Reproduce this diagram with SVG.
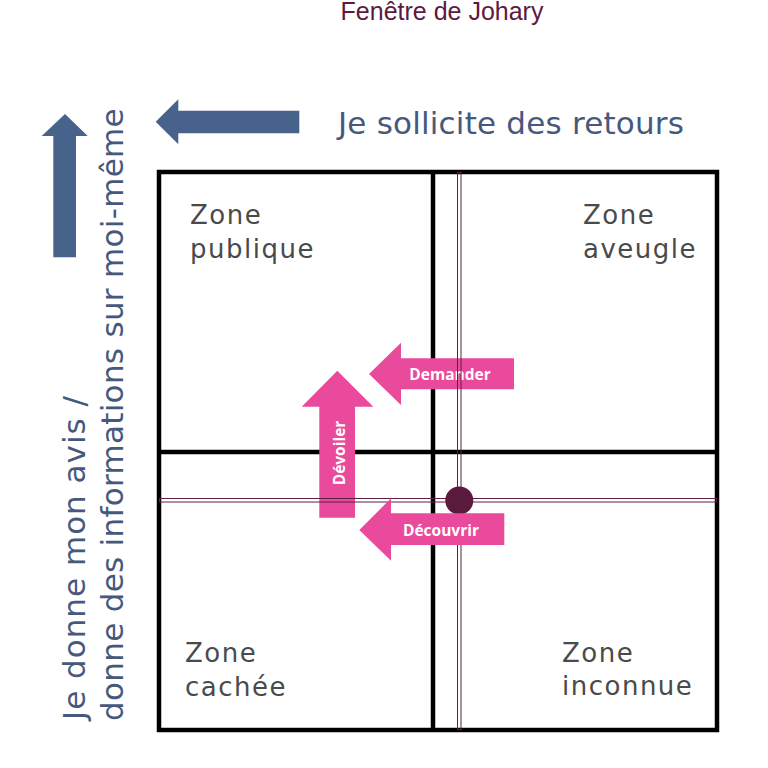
<svg xmlns="http://www.w3.org/2000/svg" width="768" height="768" viewBox="0 0 768 768">
<style>
.grid{stroke:#000;stroke-width:4.5;fill:none}
.pl{fill:none;stroke:#5e1f45;stroke-width:1}
.blue{fill:#47628b}
.pink{fill:#ea4a9b}
.zone{font-family:"DejaVu Sans",sans-serif;font-size:26px;letter-spacing:1.5px;fill:#4a4a4a}
.big{font-family:"DejaVu Sans",sans-serif;font-size:31px;fill:#46597d}
.lbl{font-family:"Open Sans",sans-serif;font-weight:bold;font-size:15.5px;fill:#fff}
</style>
<rect width="768" height="768" fill="#fff"/>
<text x="442" y="20" text-anchor="middle" font-family="Liberation Sans, sans-serif" font-size="25" fill="#5c1a40">Fenêtre de Johary</text>
<g id="grid">
<rect class="grid" x="159" y="172" width="558" height="558"/>
<line class="grid" x1="433" y1="172" x2="433" y2="730"/>
<line class="grid" x1="159" y1="452" x2="717" y2="452"/>
</g>
<g id="zone-publique"><text class="zone" x="190" y="224">Zone</text><text class="zone" x="190" y="258">publique</text></g>
<g id="zone-aveugle"><text class="zone" x="583" y="224">Zone</text><text class="zone" x="583" y="258">aveugle</text></g>
<g id="zone-cachee"><text class="zone" x="185" y="662">Zone</text><text class="zone" x="185" y="696">cachée</text></g>
<g id="zone-inconnue"><text class="zone" x="562" y="662">Zone</text><text class="zone" x="562" y="695">inconnue</text></g>
<g id="axis-top">
<path class="blue" d="M155.7,121.7 L178.3,99.3 L178.3,110.7 L299.3,110.7 L299.3,133.3 L178.3,133.3 L178.3,144.3 Z"/>
<text class="big" x="338" y="134" letter-spacing="0.2">Je sollicite des retours</text>
</g>
<g id="axis-left">
<path class="blue" d="M65,114 L87.7,136 L76,136 L76,257.3 L53.3,257.3 L53.3,136 L41.7,136 Z"/>
<text class="big" transform="translate(85,720) rotate(-90)" letter-spacing="1">Je donne mon avis /</text>
<text class="big" transform="translate(123,721) rotate(-90)" letter-spacing="0.3">donne des informations sur moi-même</text>
</g>
<g id="connectors">
<g id="demander">
<path class="pink" d="M369,374 L401,342.7 L401,358.3 L514,358.3 L514,389.3 L401,389.3 L401,405 Z"/>
<text class="lbl" x="450" y="374" text-anchor="middle" dominant-baseline="central">Demander</text>
</g>
<g id="devoiler">
<path class="pink" d="M337.3,370.7 L373.3,406.7 L355,406.7 L355,517.7 L319.3,517.7 L319.3,406.7 L301.7,406.7 Z"/>
<text class="lbl" transform="translate(339,453) rotate(-90)" text-anchor="middle" dominant-baseline="central">Dévoiler</text>
</g>
<rect class="pl" x="457.5" y="172.5" width="3.5" height="557"/>
<rect class="pl" x="159.5" y="498.5" width="557" height="3.5"/>
<circle cx="459.3" cy="500.5" r="14" fill="#5a1a3c"/>
<g id="decouvrir">
<path class="pink" d="M359.3,530 L391,498.3 L391,513.3 L504.3,513.3 L504.3,545 L391,545 L391,560.7 Z"/>
<text class="lbl" x="441" y="530" text-anchor="middle" dominant-baseline="central">Découvrir</text>
</g>
</g>
</svg>
